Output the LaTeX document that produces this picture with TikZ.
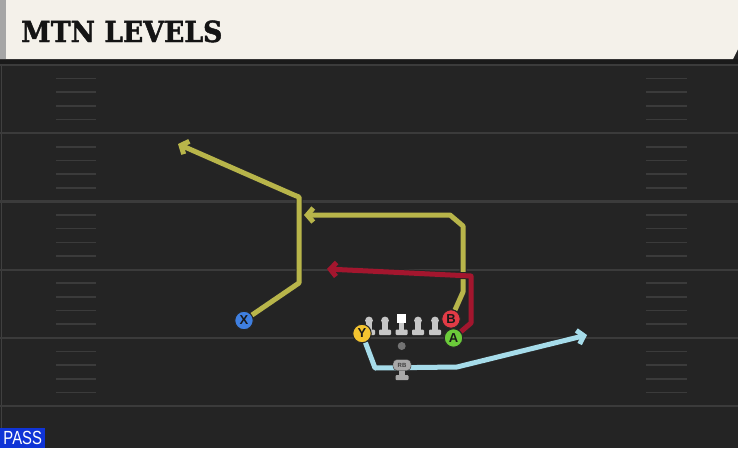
\documentclass[tikz,border=0pt]{standalone}
\usepackage{fontspec}
\setmainfont{DejaVu Serif}
\newfontfamily\titlefont{DejaVu Serif}[BoldFeatures={FakeBold=1.6}]
\newfontfamily\labelfont{Liberation Sans}
\usetikzlibrary{arrows.meta}

\definecolor{Field}{HTML}{242424}
\definecolor{Strip}{HTML}{1A1A1A}
\definecolor{Yard}{HTML}{3B3B3B}
\definecolor{Paper}{HTML}{F4F1EA}
\definecolor{Olive}{HTML}{B8B54A}
\definecolor{Crimson}{HTML}{A3162E}
\definecolor{Sky}{HTML}{A6DCEA}
\definecolor{Tackle}{HTML}{C6C6C6}
\definecolor{Pblue}{HTML}{3F7FE0}
\definecolor{Pgold}{HTML}{F4C430}
\definecolor{Pred}{HTML}{E23B46}
\definecolor{Pgreen}{HTML}{6BCB3A}
\definecolor{Passblue}{HTML}{1034D6}

\tikzset{
  player/.style={circle,draw=black!85,line width=1pt,minimum size=18.5pt,inner sep=0pt,
    font=\labelfont\bfseries\fontsize{13}{13}\selectfont,text=black!90},
  route/.style={line width=5pt,line join=round,
    -{Straight Barb[length=6pt,width=14pt]},
    preaction={draw=black!85,line width=7pt}},
  lineman/.pic={
    \fill[Tackle] (0,0) circle (3.9);
    \fill[Tackle] (-2.6,2.5) rectangle (2.6,10);
    \fill[Tackle,rounded corners=1pt] (-6,9) rectangle (6,14.5);}
}

\begin{document}
\begin{tikzpicture}[x=1pt,y=-1pt]
    \useasboundingbox (0,0) rectangle (738,448);
    % field
    \fill[Field] (0,0) rectangle (738,448);
    \fill[Strip] (0,59) rectangle (738,65);
    \draw[black!75!white,line width=1pt] (1,65)--(1,448);
    \foreach \n in {0,...,5}
        \draw[Yard,line width=2.2pt] (0,65+68.2*\n)--(738,65+68.2*\n);
    \foreach \n in {1,...,24}{
        \pgfmathtruncatemacro\r{mod(\n,5)}
        \ifnum\r>0
        \draw[Yard,line width=1.6pt] (56,65+13.64*\n)--(96,65+13.64*\n);
        \draw[Yard,line width=1.6pt] (646,65+13.64*\n)--(687,65+13.64*\n);
        \fi}
    % header
    \fill[Paper] (0,0)--(738,0)--(738,49)--(733,59)--(0,59)--cycle;
    \fill[black!35] (0,0) rectangle (6,59);
    \node [anchor=base west,inner sep=0pt] (title) at (21,42)
        {\titlefont\bfseries\fontsize{29}{29}\selectfont\color{black!92}\scalebox{0.92}[1]{MTN LEVELS}};
    % formation
    \foreach \x in {369,385,418,435}
        \pic at (\x,320.5) {lineman};
    \fill[Tackle] (399.1,323) rectangle (404.3,330.5);
    \fill[Tackle,rounded corners=1pt] (395.7,329.5) rectangle (407.7,335);
    \fill[white] (397.2,313.5) rectangle (406.2,322.5);
    \fill[black!55] (401.7,346) circle (4);
    \node [player,fill=Pblue] (x) at (244,320.5) {X};
    \node [player,fill=Pgold] (y) at (362,333.5) {Y};
    \node [player,fill=Pgreen] (a) at (453.5,338) {A};
    \node [player,fill=Pred] (b) at (451,319) {B};
    % routes
    \coordinate (xend) at (178,144);
    \coordinate (bend) at (304,215);
    \coordinate (rend) at (327,269);
    \coordinate (yend) at (587,335);
    \draw[route,Olive] (x)--(299,283)--(299,197)--(294,195)--(xend);
    \draw[route,Olive] (b)--(463,292)--(463,226)--(450,215)--(bend);
    \draw[route,Crimson] (a)--(471,323)--(471,276)--(rend);
    \draw[route,Sky] (y)--(375,368)--(457,367)--(yend);
    \node [player,fill=Pred] at (b) {B};
    \node [player,fill=Pgreen] at (a) {A};
    % running back
    \fill[Tackle!85!black] (399.4,370) rectangle (404.6,375.5);
    \fill[Tackle!85!black,rounded corners=1pt] (395.5,375) rectangle (408.5,380);
    \node [draw=black!80,fill=Tackle!85!black,rounded corners=4pt,minimum width=18pt,
        minimum height=11pt,inner sep=0pt,font=\labelfont\bfseries\fontsize{6}{6}\selectfont,
        text=black!75] (rb) at (402,365) {RB};
    % play type
    \node [fill=Passblue,anchor=south west,minimum width=45pt,minimum height=20pt,inner sep=0pt,
        font=\labelfont\fontsize{19}{19}\selectfont,text=white] (pass) at (0,448)
        {\scalebox{0.78}[1]{PASS}};
\end{tikzpicture}
\end{document}
